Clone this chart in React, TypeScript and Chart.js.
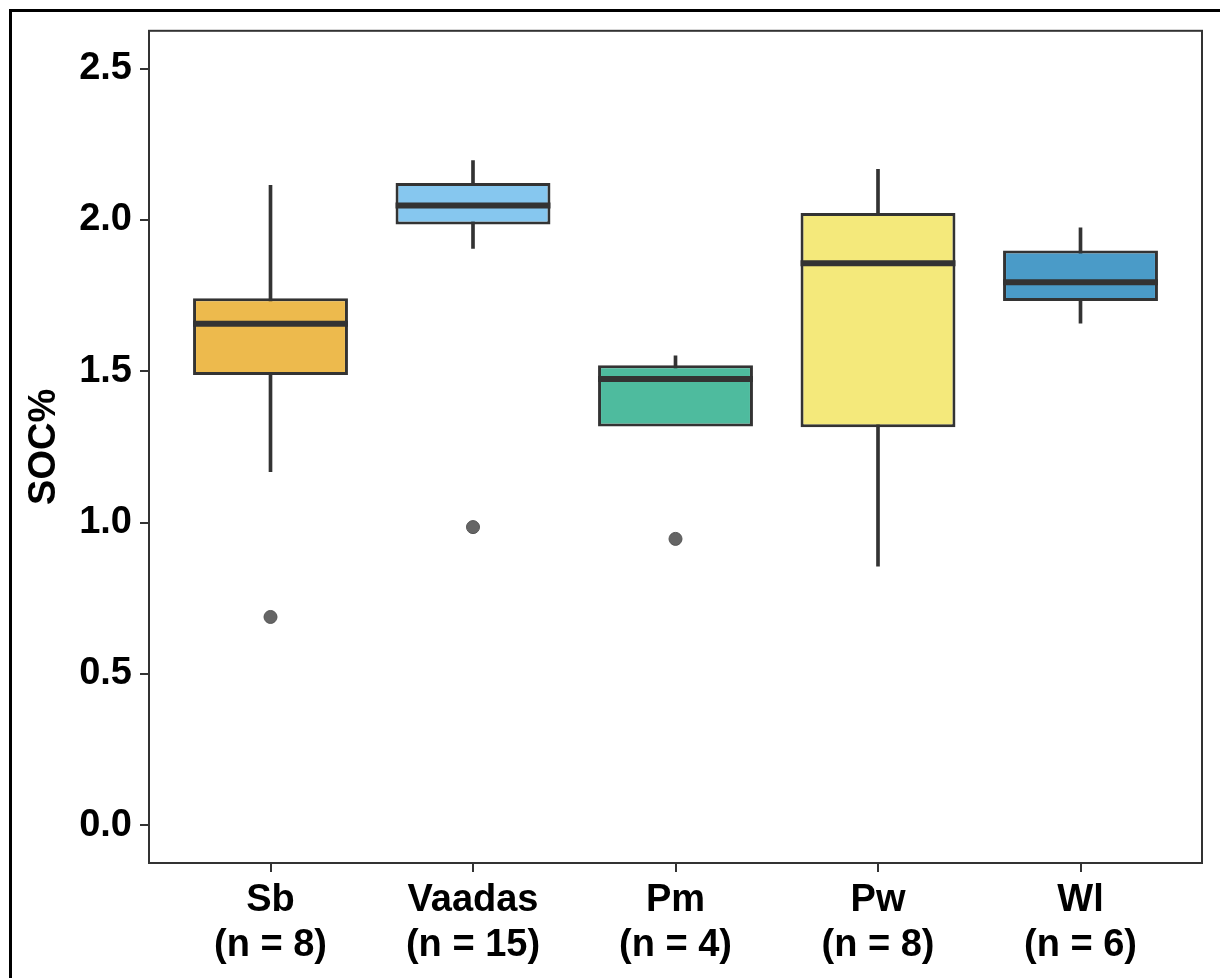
import React, { useEffect, useRef } from "react";
import { Chart, registerables } from "chart.js";

Chart.register(...registerables);

const categories = ["Sb", "Vaadas", "Pm", "Pw", "Wl"];
const sampleSizes = [8, 15, 4, 8, 6];
const whiskerLow = [1.168, 1.906, 1.34, 0.856, 1.659];
const q1 = [1.488, 1.985, 1.317, 1.315, 1.732];
const median = [1.657, 2.048, 1.474, 1.857, 1.794];
const q3 = [1.741, 2.122, 1.52, 2.023, 1.899];
const whiskerHigh = [2.114, 2.196, 1.551, 2.167, 1.974];
const outliers: (number | null)[] = [0.688, 0.985, 0.946, null, null];
const fillColors = ["#EDBA4D", "#86C7EF", "#4EBB9E", "#F4E97B", "#4A9BC8"];
const yTicks = [0, 0.5, 1.0, 1.5, 2.0, 2.5];
const yTitle = "SOC%";

const LINE = "#333333";
const FONT = "'Liberation Sans', Arial, Helvetica, sans-serif";

export default function App() {
  const ref = useRef<HTMLCanvasElement | null>(null);

  useEffect(() => {
    if (!ref.current) return;
    const boxIndex = 1;

    const framePlugin = {
      id: "frame",
      beforeDraw(chart: any) {
        const ctx = chart.ctx;
        ctx.save();
        ctx.fillStyle = "#ffffff";
        ctx.fillRect(0, 0, chart.width, chart.height);
        ctx.fillStyle = "#000000";
        ctx.fillRect(9, 9, 3, chart.height);
        ctx.fillRect(9, 9, chart.width, 3);
        ctx.restore();
      },
      afterDatasetsDraw(chart: any) {
        const ctx = chart.ctx;
        const meta = chart.getDatasetMeta(boxIndex);
        const y = chart.scales.y;
        ctx.save();
        ctx.strokeStyle = LINE;
        ctx.lineWidth = 6;
        meta.data.forEach((bar: any, i: number) => {
          const py = y.getPixelForValue(median[i]);
          ctx.beginPath();
          ctx.moveTo(bar.x - bar.width / 2, py);
          ctx.lineTo(bar.x + bar.width / 2, py);
          ctx.stroke();
        });
        ctx.restore();
      },
      afterDraw(chart: any) {
        const { left, top, right, bottom } = chart.chartArea;
        const ctx = chart.ctx;
        ctx.save();
        ctx.strokeStyle = LINE;
        ctx.lineWidth = 2;
        ctx.strokeRect(left, top, right - left, bottom - top);
        ctx.restore();
      },
    };

    const chart = new Chart(ref.current, {
      type: "bar",
      data: {
        datasets: [
          {
            type: "bar",
            label: "whiskers",
            data: categories.map((c, i) => ({ x: i, y: [whiskerLow[i], whiskerHigh[i]] })) as any,
            backgroundColor: LINE,
            borderWidth: 0,
            barThickness: 3,
            grouped: false,
            order: 3,
          } as any,
          {
            type: "bar",
            label: "boxes",
            data: categories.map((c, i) => ({ x: i, y: [q1[i], q3[i]] })) as any,
            backgroundColor: fillColors,
            borderColor: LINE,
            borderWidth: 3,
            borderSkipped: false,
            barPercentage: 0.765,
            categoryPercentage: 1,
            grouped: false,
            order: 2,
          } as any,
          {
            type: "line",
            label: "outliers",
            data: outliers
              .map((v, i) => (v === null ? null : { x: i, y: v }))
              .filter((p) => p !== null) as any,
            showLine: false,
            pointRadius: 6.5,
            pointBackgroundColor: "#656565",
            pointBorderColor: "#555555",
            pointBorderWidth: 1,
            order: 1,
          } as any,
        ],
      },
      options: {
        animation: false,
        responsive: false,
        layout: { padding: { top: 30, right: 18, left: 0, bottom: 0 } },
        plugins: {
          legend: { display: false },
          tooltip: { enabled: false },
        },
        scales: {
          x: {
            type: "linear",
            min: -0.6,
            max: categories.length - 1 + 0.6,
            offset: false,
            grid: {
              display: true,
              offset: false,
              drawOnChartArea: false,
              drawTicks: true,
              tickLength: 9,
              color: LINE,
              lineWidth: 2,
            },
            border: { display: true, color: LINE, width: 2 },
            afterBuildTicks: (scale: any) => {
              scale.ticks = categories.map((c, i) => ({ value: i }));
            },
            afterFit: (scale: any) => {
              scale.height = 115;
            },
            ticks: {
              color: "#000000",
              padding: 6,
              maxRotation: 0,
              autoSkip: false,
              font: { family: FONT, size: 38, weight: "bold", lineHeight: 1.18 },
              callback: (v: any) => {
                const i = Math.round(Number(v));
                return [categories[i], `(n = ${sampleSizes[i]})`];
              },
            },
          },
          y: {
            type: "linear",
            min: -0.125,
            max: 2.625,
            grid: {
              display: true,
              drawOnChartArea: false,
              drawTicks: true,
              tickLength: 9,
              color: LINE,
              lineWidth: 2,
            },
            border: { display: true, color: LINE, width: 2 },
            afterBuildTicks: (scale: any) => {
              scale.ticks = yTicks.map((v) => ({ value: v }));
            },
            afterFit: (scale: any) => {
              scale.width = 149;
            },
            ticks: {
              color: "#000000",
              padding: 8,
              font: { family: FONT, size: 38, weight: "bold" },
              callback: (v: any) => Number(v).toFixed(1),
            },
            title: {
              display: true,
              text: yTitle,
              color: "#000000",
              padding: { top: 22, bottom: 0 },
              font: { family: FONT, size: 38, weight: "bold", lineHeight: 1.2 },
            },
          },
        },
      },
      plugins: [framePlugin],
    } as any);

    return () => chart.destroy();
  }, []);

  return (
    <div style={{ position: "absolute", left: 0, top: 0, width: 1220, height: 978, background: "#fff" }}>
      <canvas ref={ref} width={1220} height={978} style={{ display: "block" }} />
    </div>
  );
}
